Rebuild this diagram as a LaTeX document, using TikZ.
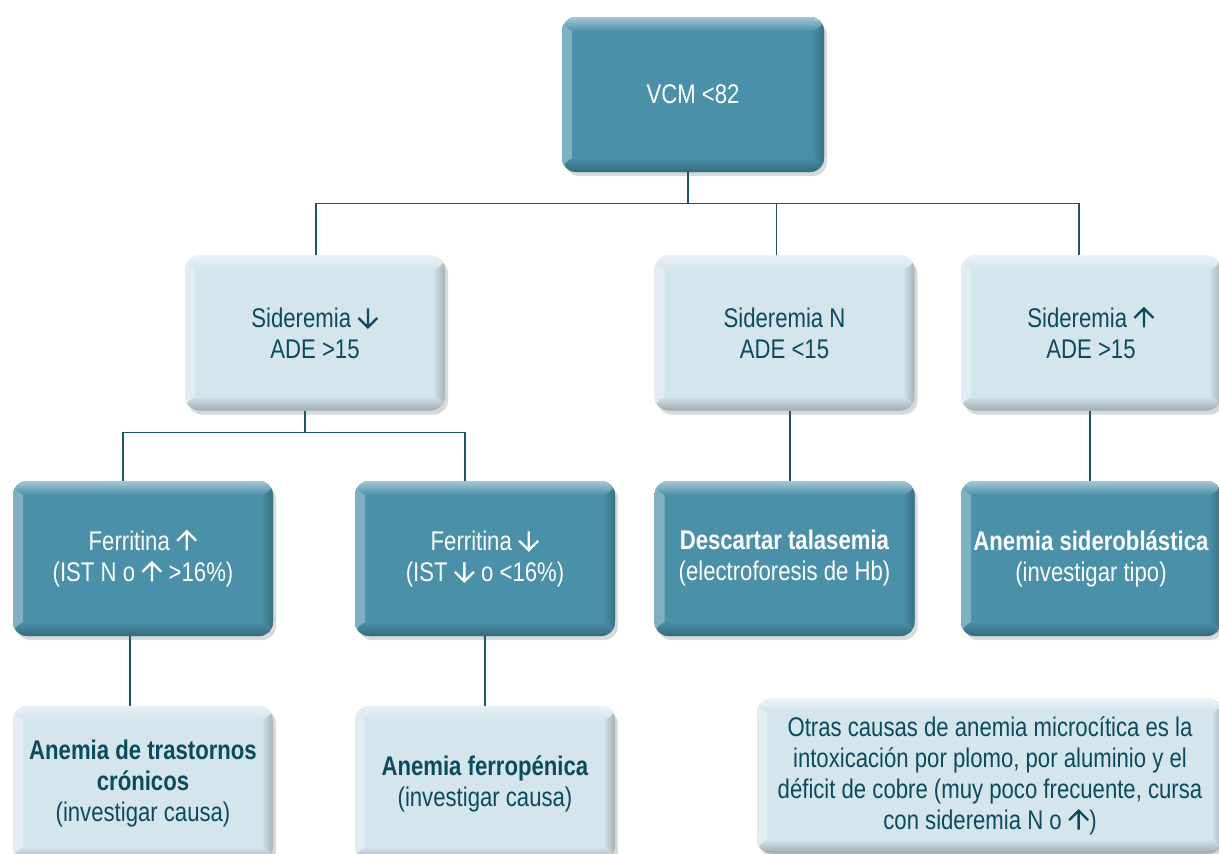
\documentclass[tikz,border=0pt]{standalone}
\usepackage{fontspec}
\newfontfamily\boxfont{Liberation Sans}[FakeStretch=0.82]
\usetikzlibrary{shadows}
\definecolor{tealbox}{HTML}{4A90A8}
\definecolor{paleblue}{HTML}{D4E5EC}
\definecolor{tealtext}{HTML}{0C4A5E}
\definecolor{linkcol}{HTML}{1E5567}
% heavy arrows as in the text of the boxes
\newcommand\arrowup{\tikz[baseline=0pt,sharp corners]\draw[line width=2.3pt] (0pt,0pt) -- (0pt,19pt) (-9.5pt,9.5pt) -- (0pt,19pt) -- (9.5pt,9.5pt);}
\newcommand\arrowdown{\tikz[baseline=0pt,sharp corners]\draw[line width=2.3pt] (0pt,19pt) -- (0pt,0pt) (-9.5pt,9.5pt) -- (0pt,0pt) -- (9.5pt,9.5pt);}
\tikzset{
  bevelbox/.style 2 args={rounded corners=14pt, minimum width=260pt, minimum height=155pt,
    inner sep=4pt, fill=#1, text=#2, align=center,
    font=\boxfont\fontsize{27}{31}\selectfont,
    drop shadow={shadow xshift=3pt, shadow yshift=-4pt, opacity=.25, fill=black!60},
    path picture={
      \shade[left color=#1!70!white, right color=#1] (path picture bounding box.north west) rectangle ([xshift=10pt]path picture bounding box.south west);
      \shade[left color=#1, right color=#1!78!black] ([xshift=-12pt]path picture bounding box.north east) rectangle (path picture bounding box.south east);
      \shade[top color=#1!50!white, bottom color=#1] (path picture bounding box.north west) rectangle ([yshift=-14pt]path picture bounding box.north east);
      \shade[top color=#1, bottom color=#1!74!black] ([yshift=14pt]path picture bounding box.south west) rectangle (path picture bounding box.south east);
    }},
  darkbox/.style={bevelbox={tealbox}{white}},
  palebox/.style={bevelbox={paleblue}{tealtext}},
  link/.style={draw=linkcol, line width=1.3pt}
}
\begin{document}
\begin{tikzpicture}[x=1pt,y=1pt]
\useasboundingbox (0,0) rectangle (1219,-854);
\clip (0,0) rectangle (1219,-854);
% boxes
\node[darkbox, minimum width=262pt] (vcm) at (693,-94.5) {VCM <82};
\node[palebox] (sidlow) at (315,-333) {Sideremia \arrowdown\\ADE >15};
\node[palebox] (sidnorm) at (784.5,-333) {Sideremia N\\ADE <15};
\node[palebox] (sidhigh) at (1091,-333) {Sideremia \arrowup\\ADE >15};
\node[darkbox] (ferhigh) at (143,-558.5) {Ferritina \arrowup\\(IST N o \arrowup{} >16\%)};
\node[darkbox] (ferlow) at (485,-558.5) {Ferritina \arrowdown\\(IST \arrowdown{} o <16\%)};
\node[darkbox] (talas) at (784.5,-558.5) {\textbf{Descartar talasemia}\\(electroforesis de Hb)};
\node[darkbox] (sidero) at (1091,-558.5) {\textbf{Anemia sideroblástica}\\(investigar tipo)};
\node[palebox] (cronic) at (143,-783.5) {\textbf{Anemia de trastornos}\\\textbf{crónicos}\\(investigar causa)};
\node[palebox] (ferrop) at (485,-783.5) {\textbf{Anemia ferropénica}\\(investigar causa)};
\node[palebox, minimum width=466pt] (otras) at (990,-776) {Otras causas de anemia microcítica es la\\intoxicación por plomo, por aluminio y el\\déficit de cobre (muy poco frecuente, cursa\\con sideremia N o \arrowup)};
% connectors
\draw[link] ([xshift=-5pt]vcm.south) -- ++(0,-31) coordinate (busmid);
\draw[link] ([xshift=1pt]sidlow.north) |- (busmid) -| ([xshift=-12pt]sidhigh.north);
\draw[link] ([xshift=-8pt]sidnorm.north) -- ([xshift=-8pt]sidnorm.north |- busmid);
\draw[link] ([xshift=-10pt]sidlow.south) -- ++(0,-22) coordinate (forkmid);
\draw[link] ([xshift=-20pt]ferhigh.north) |- (forkmid) -| ([xshift=-20pt]ferlow.north);
\draw[link] ([xshift=5.5pt]sidnorm.south) -- ([xshift=5.5pt]talas.north);
\draw[link] ([xshift=-1pt]sidhigh.south) -- ([xshift=-1pt]sidero.north);
\draw[link] ([xshift=-13pt]ferhigh.south) -- ([xshift=-13pt]cronic.north);
\draw[link] (ferlow.south) -- (ferrop.north);
\end{tikzpicture}
\end{document}
